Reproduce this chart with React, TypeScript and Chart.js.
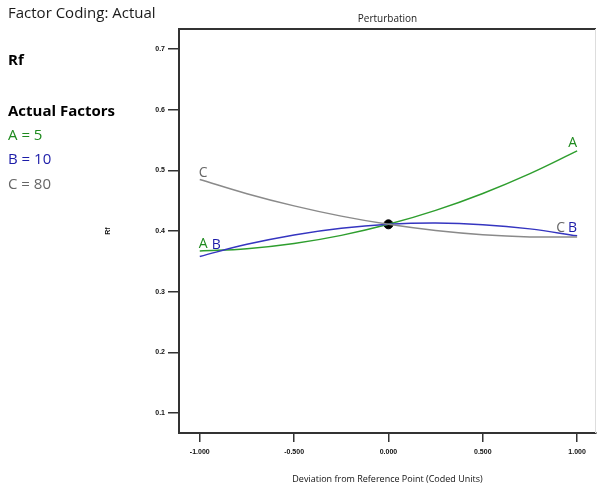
import React, { useEffect, useRef } from "react";
import { Chart, registerables } from "chart.js";

Chart.register(...registerables);

// ---- data ----
const xValues = [-1, -0.75, -0.5, -0.25, 0, 0.25, 0.5, 0.75, 1];
const seriesA = [0.367, 0.3708, 0.3794, 0.3928, 0.411, 0.434, 0.4619, 0.4946, 0.532];
const seriesB = [0.358, 0.378, 0.3935, 0.4045, 0.411, 0.413, 0.4105, 0.4035, 0.392];
const seriesC = [0.485, 0.4615, 0.4414, 0.4245, 0.411, 0.4008, 0.3939, 0.3903, 0.39];
const refX = [0];
const refY = [0.411];
const xTicks = [-1, -0.5, 0, 0.5, 1];
const yTicks = [0.1, 0.2, 0.3, 0.4, 0.5, 0.6, 0.7];

const sideTexts = [
  { text: "Factor Coding: Actual", color: "#1a1a1a", bold: false, size: 15 },
  { text: "Rf", color: "#000", bold: true, size: 15 },
  { text: "Actual Factors", color: "#000", bold: true, size: 15 },
  { text: "A = 5", color: "#1e8a1e", bold: false, size: 15 },
  { text: "B = 10", color: "#1c1ca8", bold: false, size: 15 },
  { text: "C = 80", color: "#666", bold: false, size: 15 },
];
const sideBaselines = [18, 65, 116, 140, 164, 189];

const FONT = "'Open Sans', 'Noto Sans', sans-serif";
const TICK_FONT = "'Liberation Sans', Arial, sans-serif";

// label offsets (style) per series: start [dx, dy], end [dx, dy]
const labelStyle: Record<string, { color: string; s: [number, number]; e: [number, number] }> = {
  A: { color: "#1e8a1e", s: [-1, -3], e: [0, -4] },
  B: { color: "#1c1ca8", s: [12, -7], e: [0, -4] },
  C: { color: "#666", s: [-1, -2], e: [-12, -5] },
};

const decorPlugin = {
  id: "decor",
  beforeDraw(chart: any) {
    const ctx = chart.ctx;
    ctx.save();
    ctx.fillStyle = "#fff";
    ctx.fillRect(0, 0, chart.width, chart.height);
    ctx.textAlign = "left";
    ctx.textBaseline = "alphabetic";
    sideTexts.forEach((t, i) => {
      ctx.font = `${t.bold ? "bold " : ""}${t.size}px ${FONT}`;
      ctx.fillStyle = t.color;
      ctx.fillText(t.text, 8, sideBaselines[i]);
    });
    ctx.restore();
  },
  afterDraw(chart: any) {
    const ctx = chart.ctx;
    const a = chart.chartArea;
    ctx.save();
    ctx.strokeStyle = "#333";
    ctx.lineWidth = 2;
    ctx.beginPath();
    ctx.moveTo(a.left - 1, a.top);
    ctx.lineTo(a.right, a.top);
    ctx.stroke();
    ctx.strokeStyle = "#ddd";
    ctx.lineWidth = 1;
    ctx.beginPath();
    ctx.moveTo(a.right - 0.5, a.top);
    ctx.lineTo(a.right - 0.5, a.bottom);
    ctx.stroke();
    ctx.font = `14px ${FONT}`;
    ctx.textBaseline = "alphabetic";
    chart.data.datasets.forEach((ds: any, i: number) => {
      const st = labelStyle[ds.label];
      if (!st) return;
      const meta = chart.getDatasetMeta(i);
      const first = meta.data[0];
      const last = meta.data[meta.data.length - 1];
      ctx.fillStyle = st.color;
      ctx.textAlign = "left";
      ctx.fillText(ds.label, first.x + st.s[0], first.y + st.s[1]);
      ctx.textAlign = "right";
      ctx.fillText(ds.label, last.x + st.e[0], last.y + st.e[1]);
    });
    ctx.restore();
  },
};

const toPts = (ys: number[]) => xValues.map((x, i) => ({ x, y: ys[i] }));

export default function App() {
  const ref = useRef<HTMLCanvasElement | null>(null);
  useEffect(() => {
    if (!ref.current) return;
    const lineDs = (label: string, ys: number[], color: string) => ({
      label,
      data: toPts(ys),
      borderColor: color,
      borderWidth: 1.5,
      pointRadius: 0,
      tension: 0.4,
      fill: false,
    });
    const chart = new Chart(ref.current, {
      type: "line",
      data: {
        datasets: [
          lineDs("C", seriesC, "#8a8a8a"),
          lineDs("B", seriesB, "#3535c0"),
          lineDs("A", seriesA, "#2e9e2e"),
          {
            label: "ref",
            data: refX.map((x, i) => ({ x, y: refY[i] })),
            showLine: false,
            pointRadius: 4.5,
            pointBackgroundColor: "#000",
            pointBorderColor: "#000",
          },
        ] as any,
      },
      options: {
        animation: false,
        responsive: false,
        devicePixelRatio: 1,
        layout: { autoPadding: false, padding: { left: 100, right: 1, top: 0, bottom: 4 } },
        plugins: {
          legend: { display: false },
          tooltip: { enabled: false },
          title: {
            display: true,
            fullSize: false,
            text: "Perturbation",
            color: "#222",
            font: { family: FONT, size: 10, weight: "normal" },
            padding: { top: 13, bottom: 4 },
          },
        },
        scales: {
          x: {
            type: "linear",
            min: -1.11,
            max: 1.1,
            afterBuildTicks: (s: any) => {
              s.ticks = xTicks.map((v) => ({ value: v }));
            },
            afterFit: (s: any) => {
              s.height = 54;
              s.paddingRight = 0;
              s.paddingLeft = 0;
            },
            ticks: {
              autoSkip: false,
              maxRotation: 0,
              padding: 6,
              color: "#111",
              font: { family: TICK_FONT, size: 7, weight: "bold" },
              callback: (v: any) => Number(v).toFixed(3),
            },
            grid: { drawOnChartArea: false, drawTicks: true, tickLength: 9, color: "#333", lineWidth: 1.5 },
            border: { display: true, color: "#333", width: 2 },
            title: {
              display: true,
              text: "Deviation from Reference Point (Coded Units)",
              color: "#111",
              font: { family: FONT, size: 9 },
              padding: { top: 0, bottom: 2 },
            },
          },
          y: {
            type: "linear",
            min: 0.067,
            max: 0.733,
            afterBuildTicks: (s: any) => {
              s.ticks = yTicks.map((v) => ({ value: v }));
            },
            afterFit: (s: any) => {
              s.width = 79;
              s.paddingTop = 0;
              s.paddingBottom = 0;
            },
            ticks: {
              padding: 3,
              color: "#111",
              font: { family: TICK_FONT, size: 7, weight: "bold" },
              callback: (v: any) => String(Number(v).toFixed(1)),
            },
            grid: { drawOnChartArea: false, drawTicks: true, tickLength: 11, color: "#333", lineWidth: 1.5 },
            border: { display: true, color: "#333", width: 2 },
            title: {
              display: true,
              text: "Rf",
              color: "#111",
              font: { family: TICK_FONT, size: 7, weight: "bold" },
              padding: { top: 4, bottom: 0 },
            },
          },
        },
      } as any,
      plugins: [decorPlugin],
    });
    return () => chart.destroy();
  }, []);
  return (
    <div style={{ position: "absolute", left: 0, top: 0, width: 597, height: 491 }}>
      <canvas ref={ref} width={597} height={491} style={{ display: "block" }} />
    </div>
  );
}
